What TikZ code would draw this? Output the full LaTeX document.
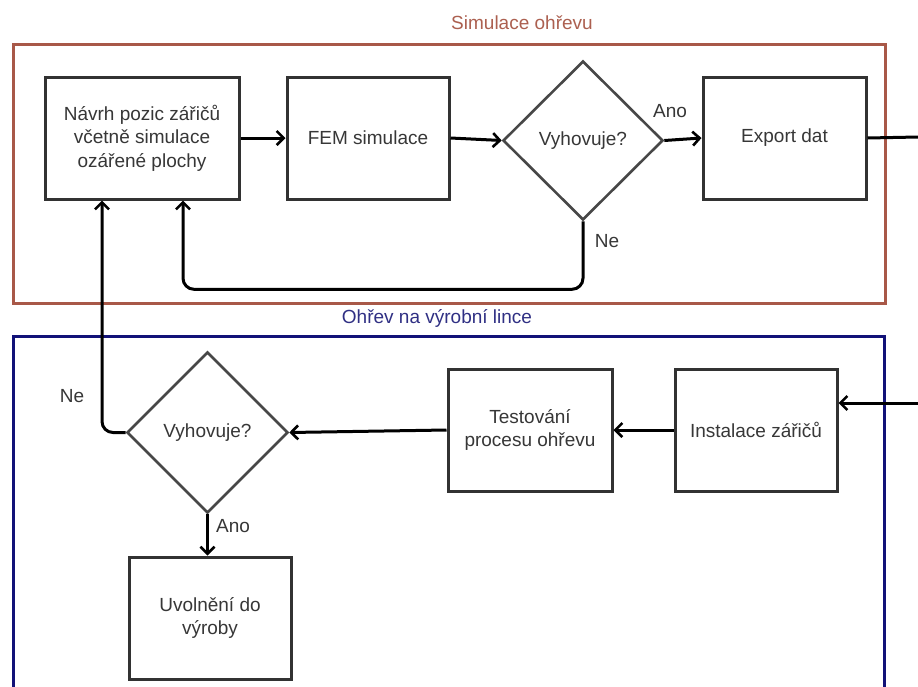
\documentclass[tikz,border=0pt]{standalone}
\usepackage{fontspec}
\setmainfont{Liberation Sans}
\usetikzlibrary{shapes.geometric,arrows.meta}
\definecolor{framered}{RGB}{168,88,72}
\definecolor{titlered}{RGB}{172,96,80}
\definecolor{frameblue}{RGB}{18,18,120}
\definecolor{titleblue}{RGB}{48,48,132}
\definecolor{boxline}{RGB}{50,50,50}
\definecolor{textgrey}{RGB}{55,55,55}
\tikzset{
  every node/.style={font=\fontsize{19}{23.5}\selectfont, text=textgrey},
  procbox/.style={draw=boxline, line width=3pt, rectangle, inner sep=0pt,
    minimum height=122pt, align=center},
  decision/.style={draw=boxline!90, line width=2.6pt, diamond, aspect=1,
    inner sep=0pt, align=center},
  flow/.style={draw=black, line width=3pt, -{Straight Barb[length=7pt,width=14pt,line width=2.6pt]}},
  plainflow/.style={draw=black, line width=3pt},
  lbl/.style={inner sep=0pt},
  frame/.style={line width=3pt}
}
\begin{document}
\begin{tikzpicture}[x=1pt,y=-1pt]
  \useasboundingbox (0,0) rectangle (918,686);
  \clip (0,0) rectangle (918,686);
  \fill[white] (0,0) rectangle (918,686);

  % group frames and their titles
  \draw[frame, draw=framered] (13,44) rectangle (885,303);
  \draw[frame, draw=frameblue] (13,700) -- (13,336) -- (884,336) -- (884,700);
  \node[lbl, text=titlered] (t1) at (522,23) {Simulace ohřevu};
  \node[lbl, text=titleblue] (t2) at (437,318) {Ohřev na výrobní lince};

  % simulation stage
  \node[procbox, minimum width=194pt] (navrh) at (142,138)
    {Návrh pozic zářičů\\včetně simulace\\ozářené plochy};
  \node[procbox, minimum width=162pt] (fem) at (368,138) {FEM simulace};
  \node[decision, minimum width=160pt, minimum height=159pt] (d1) at (583,140.5) {Vyhovuje?};
  \node[procbox, minimum width=163pt] (export) at (784.5,138) {Export dat};

  % production line stage
  \node[procbox, minimum width=162pt] (inst) at (756,430) {Instalace zářičů};
  \node[procbox, minimum width=164pt] (test) at (530,430) {Testování\\procesu ohřevu};
  \node[decision, minimum width=161pt, minimum height=161pt] (d2) at (207.5,432.5) {Vyhovuje?};
  \node[procbox, minimum width=162pt] (uvol) at (210,618) {Uvolnění do\\výroby};

  % free ends at the right border
  \coordinate (outR) at (918,137);
  \coordinate (inR) at (918,403);

  % connectors
  \draw[flow] (navrh.east) -- (fem.west);
  \draw[flow] (fem.east) -- (d1.west);
  \draw[flow] (d1.east) -- (export.west);
  \draw[plainflow] (export.east) -- (outR);
  \draw[flow, rounded corners=11pt] (d1.south) -- ++(0,68) -| ([xshift=41pt]navrh.south);
  \draw[flow] (inR) -- (inR -| inst.east);
  \draw[flow] (inst.west) -- (test.east);
  \draw[flow] (test.west) -- (d2.east);
  \draw[flow, rounded corners=11pt] (d2.west) -| ([xshift=-40pt]navrh.south);
  \draw[flow] (d2.south) -- (d2.south |- uvol.north);

  % branch labels
  \node[lbl] (a1) at (670,111) {Ano};
  \node[lbl] (n1) at (607,241) {Ne};
  \node[lbl] (n2) at (72,396) {Ne};
  \node[lbl] (a2) at (233,526) {Ano};
\end{tikzpicture}
\end{document}
